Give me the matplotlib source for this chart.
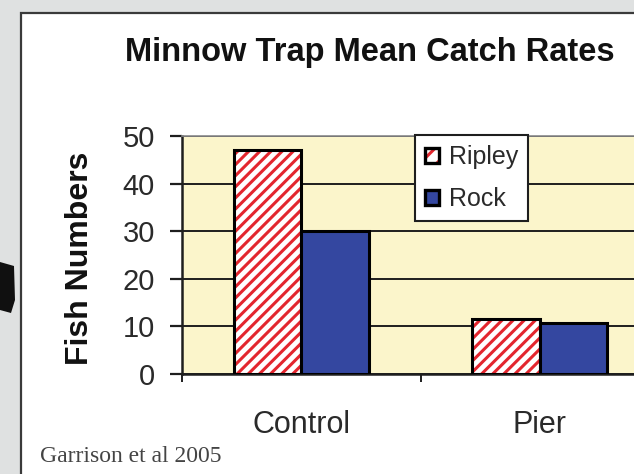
import numpy as np
import matplotlib
matplotlib.use("Agg")
import matplotlib.pyplot as plt
from matplotlib.patches import Rectangle, Polygon, Patch
from matplotlib.legend_handler import HandlerTuple

# Mean catch per minnow trap, by site and species
sites = ["Control", "Pier"]
series_names = ["Ripley", "Rock"]
ripley = [47, 11.5]
rock = [30, 10.8]
y_ticks = [0, 10, 20, 30, 40, 50]

RED = "#e3262e"
BLUE = "#3447a0"
BEIGE = "#fbf5cb"
TEXT = "#2a2a2a"

plt.rcParams["font.family"] = ["Liberation Sans", "DejaVu Sans"]
plt.rcParams["hatch.linewidth"] = 2.2

W, H = 634, 474
fig = plt.figure(figsize=(W / 100, H / 100), dpi=100, facecolor="#dfe1e1")

def px(x, y):
    """pixel position (top-left origin) -> figure fraction"""
    return x / W, 1 - y / H

# slide panel behind the chart
fig.patches.append(Polygon([px(0, 262), px(14, 266), px(15, 300), px(11, 313), px(0, 310)],
                           closed=True, transform=fig.transFigure, facecolor="#101010",
                           edgecolor="none", zorder=-2))
fig.patches.append(Rectangle(px(21, 480), (W + 10 - 21) / W, (480 - 13) / H,
                             transform=fig.transFigure, facecolor="white",
                             edgecolor="#3a3a3a", linewidth=1.6, zorder=-2))

# plot area (right edge runs off the panel)
left, top, bottom, right = 182, 136, 374, 659
ax = fig.add_axes([left / W, 1 - bottom / H, (right - left) / W, (bottom - top) / H])
ax.set_facecolor(BEIGE)

x = np.arange(len(sites))
bw = 0.283
HATCH = "///"

# hatched Ripley bars: red stripes on white, black outline on top
ax.bar(x - bw / 2, ripley, bw, facecolor="white", edgecolor=RED, hatch=HATCH,
       linewidth=0, zorder=3)
ax.bar(x - bw / 2, ripley, bw, fill=False, edgecolor="black", linewidth=2.2, zorder=4)
ax.bar(x + bw / 2, rock, bw, facecolor=BLUE, edgecolor="black", linewidth=2.2, zorder=4)

ax.set_xlim(-0.5, len(sites) - 0.5)
ax.set_ylim(0, 50)
ax.set_yticks(y_ticks)
ax.set_yticklabels([str(t) for t in y_ticks], fontsize=21, color=TEXT)
ax.yaxis.grid(True, color="#1e1e1e", linewidth=1.4, zorder=1)
ax.set_axisbelow(True)
ax.tick_params(axis="y", direction="out", length=8.5, width=1.6, pad=11, color="#1e1e1e")

ax.set_xticks(x)
ax.set_xticklabels(sites, fontsize=22, color=TEXT)
ax.tick_params(axis="x", which="major", length=0, pad=26)
ax.set_xticks(np.arange(len(sites) + 1) - 0.5, minor=True)
ax.tick_params(axis="x", which="minor", direction="out", length=6, width=1.4, color="#1e1e1e")

for side in ["left", "bottom"]:
    ax.spines[side].set_color("#1e1e1e")
    ax.spines[side].set_linewidth(1.8)
ax.spines["top"].set_color("#8a8a8a")
ax.spines["top"].set_linewidth(1.2)
ax.spines["right"].set_visible(False)

handles = [(Patch(facecolor="white", edgecolor=RED, hatch="//", linewidth=0),
            Patch(fill=False, edgecolor="black", linewidth=2.4)),
           Patch(facecolor=BLUE, edgecolor="black", linewidth=2.4)]
leg = fig.legend(handles, series_names, loc="upper left", bbox_to_anchor=px(415, 135),
                 fontsize=18, frameon=True, fancybox=False, framealpha=1,
                 handlelength=0.55, handleheight=0.55, handletextpad=0.4,
                 labelspacing=0.72, borderpad=0.4, borderaxespad=0,
                 handler_map={tuple: HandlerTuple(ndivide=1)})
leg.get_frame().set_edgecolor("#1e1e1e")
leg.get_frame().set_linewidth(1.5)
for t in leg.get_texts():
    t.set_color(TEXT)

fig.text(*px(370, 52), "Minnow Trap Mean Catch Rates", ha="center", va="center",
         fontsize=23.5, fontweight="bold", color="#111111")
fig.text(*px(80, 258), "Fish Numbers", ha="center", va="center", rotation=90,
         fontsize=23, fontweight="bold", color="#111111")
fig.text(*px(40, 456), "Garrison et al 2005", ha="left", va="center",
         fontsize=17, color="#444444", family=["Liberation Serif", "DejaVu Serif"])

fig.savefig("out.png", dpi=100, facecolor=fig.get_facecolor())
